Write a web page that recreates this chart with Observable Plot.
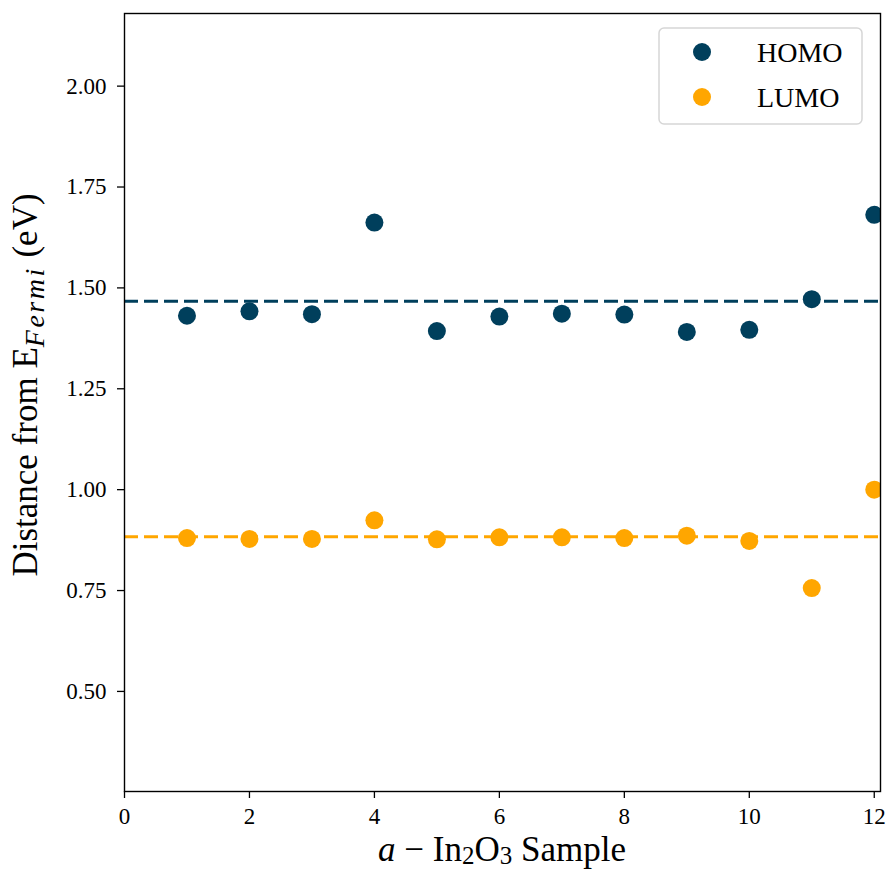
<!DOCTYPE html>
<html>
<head>
<meta charset="utf-8">
<script src="https://cdn.jsdelivr.net/npm/d3@7"></script>
<script src="https://cdn.jsdelivr.net/npm/@observablehq/plot@0.6"></script>
<style>
  html, body { margin: 0; padding: 0; background: #fff; }
  #chart svg { display: block; }
</style>
</head>
<body>
<div id="chart"></div>
<script>
const samples = [1, 2, 3, 4, 5, 6, 7, 8, 9, 10, 11, 12];
const homo = [1.431, 1.442, 1.435, 1.662, 1.393, 1.429, 1.436, 1.434, 1.391, 1.396, 1.472, 1.681];
const lumo = [0.880, 0.878, 0.878, 0.924, 0.877, 0.882, 0.882, 0.880, 0.886, 0.873, 0.756, 1.000];
const seriesNames = ["HOMO", "LUMO"];
const seriesColors = ["#003f5c", "#ffa600"];
const xTicks = [0, 2, 4, 6, 8, 10, 12];
const yTicks = [0.50, 0.75, 1.00, 1.25, 1.50, 1.75, 2.00];

const data = [
  ...samples.map((s, i) => ({sample: s, value: homo[i], series: "HOMO"})),
  ...samples.map((s, i) => ({sample: s, value: lumo[i], series: "LUMO"}))
];
const means = [
  {series: "HOMO", value: d3.mean(homo)},
  {series: "LUMO", value: d3.mean(lumo)}
];

const W = 888, H = 870;
const mL = 124, mR = 8, mT = 13, mB = 79;
const font = "'Liberation Serif', 'Times New Roman', serif";

const plot = Plot.plot({
  width: W,
  height: H,
  marginLeft: mL,
  marginRight: mR,
  marginTop: mT,
  marginBottom: mB,
  style: {fontFamily: font, fontSize: "23px", color: "#000", background: "#fff"},
  x: {domain: [0, 12.1], label: null},
  y: {domain: [0.252, 2.18], label: null},
  color: {domain: seriesNames, range: seriesColors},
  marks: [
    Plot.axisX({ticks: xTicks, tickSize: 7, tickPadding: 9, fontSize: 23, tickFormat: d3.format("d"), label: null, strokeWidth: 1.3}),
    Plot.axisY({ticks: yTicks, tickSize: 7, tickPadding: 11, fontSize: 23, tickFormat: d3.format(".2f"), label: null, strokeWidth: 1.3}),
    Plot.ruleY(means, {y: "value", stroke: "series", strokeWidth: 3, strokeDasharray: "14,6"}),
    Plot.dot(data, {x: "sample", y: "value", fill: "series", r: 9, clip: "frame"}),
    Plot.frame({stroke: "#000", strokeWidth: 1.4})
  ]
});

document.getElementById("chart").appendChild(plot);

const svg = d3.select(plot);

// X axis label
const xl = svg.append("text")
  .attr("x", (mL + W - mR) / 2)
  .attr("y", 861)
  .attr("text-anchor", "middle")
  .attr("font-family", font)
  .attr("font-size", 35)
  .attr("fill", "#000");
xl.append("tspan").attr("font-style", "italic").text("a");
xl.append("tspan").text(" \u2212 In");
xl.append("tspan").attr("dy", 3).attr("font-size", 25).text("2");
xl.append("tspan").attr("dy", -3).text("O");
xl.append("tspan").attr("dy", 3).attr("font-size", 25).text("3");
xl.append("tspan").attr("dy", -3).text(" Sample");

// Y axis label
const yl = svg.append("text")
  .attr("transform", `translate(37,385) rotate(-90)`)
  .attr("text-anchor", "middle")
  .attr("font-family", font)
  .attr("font-size", 35)
  .attr("fill", "#000");
yl.append("tspan").text("Distance from E");
yl.append("tspan").attr("dy", 7).attr("font-size", 28).attr("font-style", "italic").attr("letter-spacing", 2.5).text("Fermi");
yl.append("tspan").attr("dy", -7).text(" (eV)");

// Legend
const lg = svg.append("g").attr("text-anchor", "start");
lg.append("rect")
  .attr("x", 659).attr("y", 28).attr("width", 203).attr("height", 96)
  .attr("rx", 5).attr("ry", 5)
  .attr("fill", "rgba(255,255,255,0.8)")
  .attr("stroke", "#d6d6d6").attr("stroke-width", 1.5);
seriesNames.forEach((name, i) => {
  const cy = 52 + i * 45;
  lg.append("circle").attr("cx", 702).attr("cy", cy).attr("r", 9).attr("fill", seriesColors[i]);
  lg.append("text").attr("x", 757).attr("y", cy + 10).attr("text-anchor", "start")
    .attr("font-family", font).attr("font-size", 28).attr("fill", "#000").text(name);
});
</script>
</body>
</html>
